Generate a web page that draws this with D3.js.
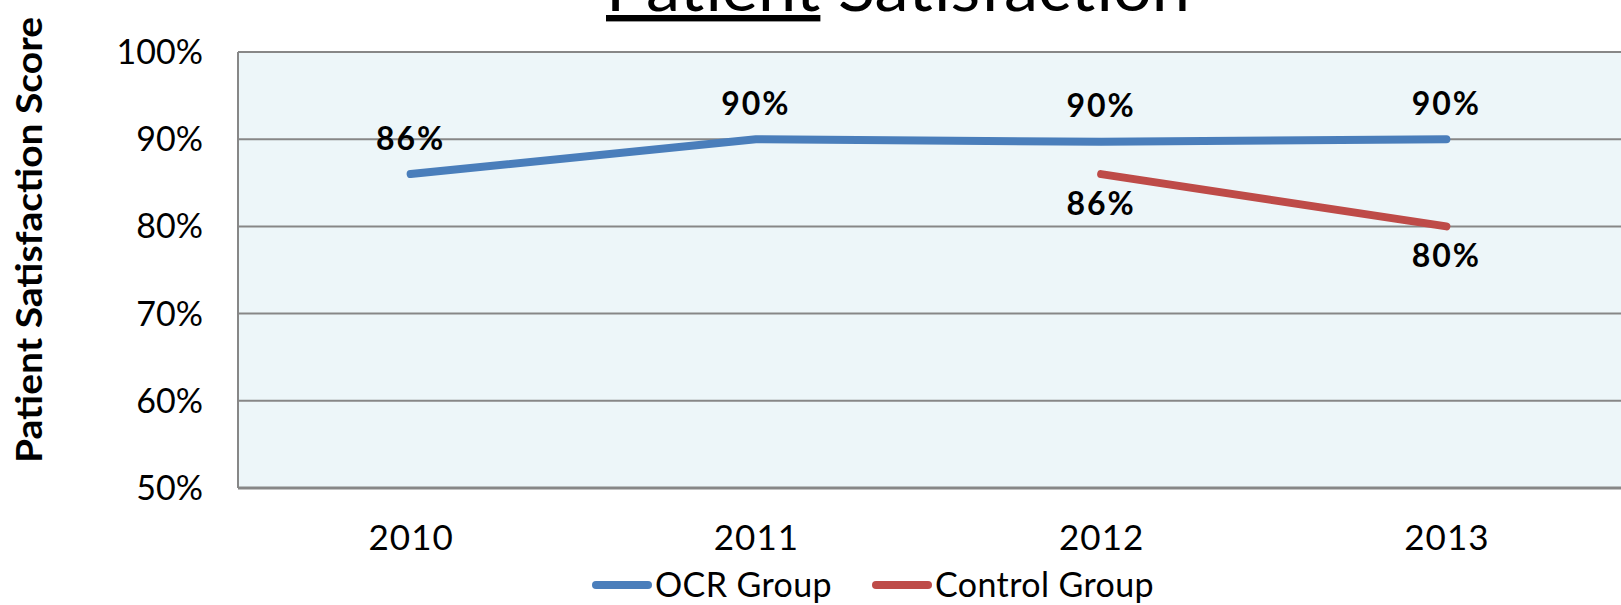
<!DOCTYPE html>
<html>
<head>
<meta charset="utf-8">
<script src="https://cdn.jsdelivr.net/npm/d3@7"></script>
<style>
  body { margin: 0; background: #fff; }
  svg { display: block; }
  text { font-family: "Century Gothic", "Lato", sans-serif; fill: #000; }
</style>
</head>
<body>
<div id="chart"></div>
<script>
// chart data
const years = ["2010", "2011", "2012", "2013"];
const ocrValues = [86, 90, 89.7, 90];
const controlValues = [null, null, 86, 80];
const yTicks = [50, 60, 70, 80, 90, 100];
const seriesNames = ["OCR Group", "Control Group"];

const svgWidth = 1621, svgHeight = 605;
const margin = { top: 52, right: 2, bottom: 117, left: 238 };
const width = svgWidth - margin.left - margin.right;
const height = svgHeight - margin.top - margin.bottom;

const svg = d3.select("#chart").append("svg")
    .attr("width", svgWidth)
    .attr("height", svgHeight);

const g = svg.append("g")
    .attr("transform", `translate(${margin.left}, ${margin.top})`);

const x = d3.scalePoint()
    .domain(years)
    .range([0, width])
    .padding(0.5);

const y = d3.scaleLinear()
    .domain([50, 100])
    .range([height, 0]);

// plot background
g.append("rect")
    .attr("x", 0).attr("y", 0)
    .attr("width", width + margin.right).attr("height", height)
    .attr("fill", "#EDF6F9");

// gridlines
g.selectAll(".grid")
    .data(yTicks.slice(1))
    .enter().append("line")
    .attr("x1", 0).attr("x2", width + margin.right)
    .attr("y1", d => y(d)).attr("y2", d => y(d))
    .attr("stroke", "#878787")
    .attr("stroke-width", 2);

// left + bottom axis lines
g.append("line")
    .attr("x1", 0).attr("x2", 0)
    .attr("y1", 0).attr("y2", height)
    .attr("stroke", "#878787").attr("stroke-width", 2);
g.append("line")
    .attr("x1", 0).attr("x2", width + margin.right)
    .attr("y1", height).attr("y2", height)
    .attr("stroke", "#878787").attr("stroke-width", 3);

// y axis
const yAxis = g.append("g")
    .call(d3.axisLeft(y).tickValues(yTicks).tickFormat(d => d + "%").tickSize(0).tickPadding(35));
yAxis.select(".domain").remove();
yAxis.selectAll("text")
    .style("font-size", "34px")
    .attr("dy", "0.34em");

// x axis
const xAxis = g.append("g")
    .attr("transform", `translate(0, ${height})`)
    .call(d3.axisBottom(x).tickSize(0).tickPadding(37));
xAxis.select(".domain").remove();
xAxis.selectAll("text")
    .style("font-size", "35px")
    .attr("letter-spacing", "1px");

// lines
const line = d3.line()
    .defined(d => d.v != null)
    .x(d => x(d.year))
    .y(d => y(d.v));

const series = [
    { name: seriesNames[0], color: "#4A7EBB", values: years.map((yr, i) => ({ year: yr, v: ocrValues[i] })), labelDy: -36 },
    { name: seriesNames[1], color: "#BE4B48", values: years.map((yr, i) => ({ year: yr, v: controlValues[i] })), labelDy: 29 }
];

series.forEach(s => {
    g.append("path")
        .datum(s.values)
        .attr("d", line)
        .attr("fill", "none")
        .attr("stroke", s.color)
        .attr("stroke-width", 8)
        .attr("stroke-linecap", "round")
        .attr("stroke-linejoin", "round");

    g.selectAll(null)
        .data(s.values.filter(d => d.v != null))
        .enter().append("text")
        .attr("x", d => x(d.year))
        .attr("y", d => y(d.v) + s.labelDy)
        .attr("text-anchor", "middle")
        .attr("dy", "0.36em")
        .attr("letter-spacing", "2px")
        .style("font-size", "32px")
        .style("font-weight", "bold")
        .text(d => Math.round(d.v) + "%");
});

// y axis title
svg.append("text")
    .attr("transform", `translate(42, 240) rotate(-90)`)
    .attr("text-anchor", "middle")
    .attr("textLength", 446)
    .attr("lengthAdjust", "spacingAndGlyphs")
    .style("font-size", "36px")
    .style("font-weight", "bold")
    .text("Patient Satisfaction Score");

// title (top part clipped by the page edge, as in the original)
const title = svg.append("text")
    .attr("x", 606)
    .attr("y", 11)
    .attr("textLength", 584)
    .attr("lengthAdjust", "spacingAndGlyphs")
    .style("font-size", "64px");
title.append("tspan").attr("text-decoration", "underline").text("Patient");
title.append("tspan").text(" Satisfaction");

// legend
const legend = svg.append("g").attr("transform", "translate(596, 585)");
const legendX = [0, 280];
series.forEach((s, i) => {
    const lg = legend.append("g").attr("transform", `translate(${legendX[i]}, 0)`);
    lg.append("line")
        .attr("x1", 0).attr("x2", 52)
        .attr("y1", 0).attr("y2", 0)
        .attr("stroke", s.color)
        .attr("stroke-width", 8)
        .attr("stroke-linecap", "round");
    lg.append("text")
        .attr("x", 59)
        .attr("dy", "0.34em")
        .style("font-size", "34px")
        .attr("letter-spacing", "0.4px")
        .text(s.name);
});
</script>
</body>
</html>
